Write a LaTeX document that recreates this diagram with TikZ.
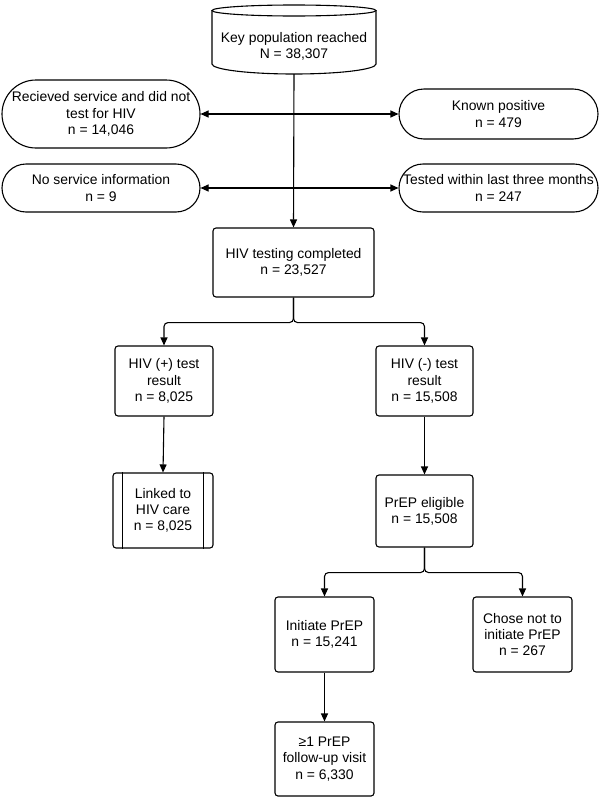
\documentclass[tikz,border=0pt]{standalone}
\usepackage{fontspec}
\setmainfont{Liberation Sans}
\usetikzlibrary{arrows.meta,shapes.misc}
\begin{document}
\begin{tikzpicture}[x=1pt,y=-1pt,
 every node/.style={font=\fontsize{13.9}{16.2}\selectfont, align=center, inner sep=0pt},
 box/.style={draw, rounded corners=3pt, line width=1.1pt},
 pill/.style={draw, rounded rectangle, line width=1.1pt},
 arr/.style={line width=1.1pt, -{Triangle[length=8pt,width=7pt]}},
 ln/.style={line width=1.1pt}]
\useasboundingbox (0,0) rectangle (600,798);
% cylinder
\node (kp) at (294,46) [minimum width=164, minimum height=56] {Key population reached\\N = 38,307};
\draw[ln] (294,10.5) ellipse [x radius=82, y radius=5.5];
\draw[ln] (212,10.5) -- (212,64) arc[start angle=180, end angle=0, x radius=82, y radius=10] -- (376,10.5);
% side pills
\node[pill, minimum width=198, minimum height=68] (rs) at (101,114) {Recieved service and did not\\test for HIV\\n = 14,046};
\node[pill, minimum width=199, minimum height=50] (kpos) at (498.5,114) {Known positive\\n = 479};
\node[pill, minimum width=198, minimum height=48] (nsi) at (101,188) {No service information\\n = 9};
\node[pill, minimum width=199, minimum height=48] (tw) at (498.5,188) {Tested within last three months\\n = 247};
% boxes
\node[box, minimum width=161, minimum height=69] (htc) at (293.5,262.5) {HIV testing completed\\n = 23,527};
\node[box, minimum width=98, minimum height=70] (pos) at (164,381) {HIV (+) test\\result\\n = 8,025};
\node[box, minimum width=97, minimum height=70] (neg) at (424.5,381) {HIV (-) test\\result\\n = 15,508};
\node[box, minimum width=100, minimum height=75] (lnk) at (163,510.5) {Linked to\\HIV care\\n = 8,025};
\draw[ln] ([xshift=10pt]lnk.north west) -- ([xshift=10pt]lnk.south west);
\draw[ln] ([xshift=-10pt]lnk.north east) -- ([xshift=-10pt]lnk.south east);
\node[box, minimum width=97, minimum height=72] (elig) at (424.5,511) {PrEP eligible\\n = 15,508};
\node[box, minimum width=99, minimum height=75] (init) at (324.5,634.5) {Initiate PrEP\\n = 15,241};
\node[box, minimum width=99, minimum height=75] (chose) at (522.5,634.5) {Chose not to\\initiate PrEP\\n = 267};
\node[box, minimum width=99, minimum height=74] (fu) at (324.5,759) {≥1 PrEP\\follow-up visit\\n = 6,330};
% connectors
\draw[arr] (kp.south) -- (htc.north);
\draw[arr] (rs.east -| kp.south) -- (rs.east);
\draw[arr] (kpos.west -| kp.south) -- (kpos.west);
\draw[arr] (nsi.east -| kp.south) -- (nsi.east);
\draw[arr] (tw.west -| kp.south) -- (tw.west);
\draw[arr, rounded corners=4pt] (htc.south) -- ++(0,25) -| (pos.north);
\draw[arr, rounded corners=4pt] (htc.south) -- ++(0,25) -| (neg.north);
\draw[arr] (pos.south) -- (lnk.north);
\draw[arr] (neg.south) -- (elig.north);
\draw[arr, rounded corners=4pt] (elig.south) -- ++(0,25) -| (init.north);
\draw[arr, rounded corners=4pt] (elig.south) -- ++(0,25) -| (chose.north);
\draw[arr] (init.south) -- (fu.north);
\end{tikzpicture}
\end{document}
